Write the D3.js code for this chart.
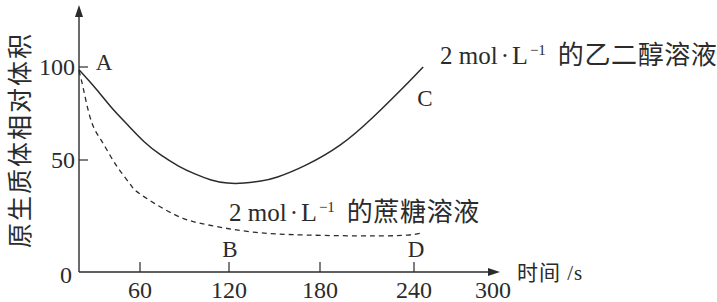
<!DOCTYPE html>
<html><head><meta charset="utf-8">
<script src="https://cdn.jsdelivr.net/npm/d3@7"></script>
<style>
html,body{margin:0;padding:0;background:#fff;}
svg{display:block;}
text{font-family:"Liberation Serif","Times New Roman","Noto Sans CJK SC",serif;fill:#2b2b2b;}
.cjk{font-family:"Liberation Serif","Noto Sans CJK SC",serif;}
</style></head>
<body>
<svg id="c" width="717" height="302"></svg>
<script>
// ---- data ----
const xTickValues = [60, 120, 180, 240, 300];
const yTickValues = [0, 50, 100];
const yTitle = "原生质体相对体积";
const xTitle = "时间 /s";
const ethyleneTimes  = [0, 16, 31.5, 48, 63, 74, 86, 97, 108, 119, 130, 141, 152, 171, 193, 214, 236, 247];
const ethyleneValues = [98.5, 88.7, 78.5, 68.8, 59.7, 52.7, 47.3, 43.8, 41.1, 39.7, 39.7, 40.6, 42.4, 47.8, 58.1, 73.1, 91.4, 100];
const sucroseTimes   = [0, 4, 12, 21.6, 31.5, 41.3, 51, 61, 84, 106, 135, 171, 214, 236, 246];
const sucroseValues  = [98, 89, 71, 60.8, 51.6, 44.6, 38.8, 34.4, 25.4, 21, 17.9, 16.5, 16.1, 16.5, 17.4];
const pointLabels = ["A", "B", "C", "D"];
const seriesNames = ["的乙二醇溶液", "的蔗糖溶液"];

// ---- scales ----
const svg = d3.select("#c");
const x = d3.scaleLinear().domain([0, 60, 120, 180, 240, 300]).range([79, 140, 229, 320, 414, 493]);
const y = d3.scaleLinear().domain([0, 50, 100]).range([272, 160, 67]);
const ink = "#2b2b2b";

// axes lines
svg.append("line").attr("x1", x(0)).attr("y1", y(0)).attr("x2", x(0)).attr("y2", 14)
  .attr("stroke", ink).attr("stroke-width", 1.4);
svg.append("path").attr("d", `M${x(0)},5 L${x(0)-4},17 L${x(0)+4},17 Z`).attr("fill", ink);
svg.append("line").attr("x1", x(0)).attr("y1", y(0)).attr("x2", 492).attr("y2", y(0))
  .attr("stroke", ink).attr("stroke-width", 1.4);
svg.append("path").attr("d", `M500,${y(0)} L488,${y(0)-4} L488,${y(0)+4} Z`).attr("fill", ink);

// x ticks
xTickValues.forEach(t => {
  if (t < 300) {
    svg.append("line").attr("x1", x(t)).attr("x2", x(t)).attr("y1", y(0)).attr("y2", y(0) - 10)
      .attr("stroke", ink).attr("stroke-width", 1.2);
  }
  svg.append("text").attr("x", x(t)).attr("y", 298)
    .attr("text-anchor", "middle").attr("font-size", 24).text(t);
});
// y ticks
yTickValues.forEach(v => {
  if (v > 0) {
    svg.append("line").attr("x1", x(0)).attr("x2", x(0) + 9).attr("y1", y(v)).attr("y2", y(v))
      .attr("stroke", ink).attr("stroke-width", 1.2);
    svg.append("text").attr("x", 75).attr("y", y(v) + 8)
      .attr("text-anchor", "end").attr("font-size", 24).text(v);
  } else {
    svg.append("text").attr("x", 66).attr("y", y(0) + 11)
      .attr("text-anchor", "middle").attr("font-size", 24).text(v);
  }
});

// axis titles
svg.append("text").attr("class", "cjk")
  .attr("transform", "translate(29,140) rotate(-90)")
  .attr("text-anchor", "middle").attr("font-size", 25).attr("letter-spacing", 2)
  .text(yTitle);
svg.append("text").attr("class", "cjk").attr("x", 517).attr("y", 280)
  .attr("font-size", 21).attr("letter-spacing", 1).text(xTitle);

// curves
const line = d3.line().x(d => x(d[0])).y(d => y(d[1])).curve(d3.curveNatural);
svg.append("path").datum(d3.zip(ethyleneTimes, ethyleneValues)).attr("d", line)
  .attr("fill", "none").attr("stroke", ink).attr("stroke-width", 1.5);
svg.append("path").datum(d3.zip(sucroseTimes, sucroseValues)).attr("d", line)
  .attr("fill", "none").attr("stroke", ink).attr("stroke-width", 1.3)
  .attr("stroke-dasharray", "5,4");

// point labels
const lblPos = {A:[104, 70], B:[230, 257], C:[425, 106], D:[416, 257]};
pointLabels.forEach(p => {
  svg.append("text").attr("x", lblPos[p][0]).attr("y", lblPos[p][1])
    .attr("text-anchor", "middle").attr("font-size", 23).text(p);
});

// series labels
function seriesLabel(x0, y0, name) {
  const t = svg.append("text").attr("x", x0).attr("y", y0).attr("font-size", 25);
  t.append("tspan").text("2 mol");
  t.append("tspan").attr("dx", 3).text("\u00B7");
  t.append("tspan").attr("dx", 3).attr("font-size", 26).text("L");
  t.append("tspan").attr("dx", 2).attr("dy", -9).attr("font-size", 15).text("\u22121");
  t.append("tspan").attr("dy", 9).attr("dx", 12).attr("class", "cjk")
    .attr("font-size", 26).attr("letter-spacing", 0.6).text(name);
}
seriesLabel(440, 64, seriesNames[0]);
seriesLabel(229, 221, seriesNames[1]);
</script>
</body></html>
